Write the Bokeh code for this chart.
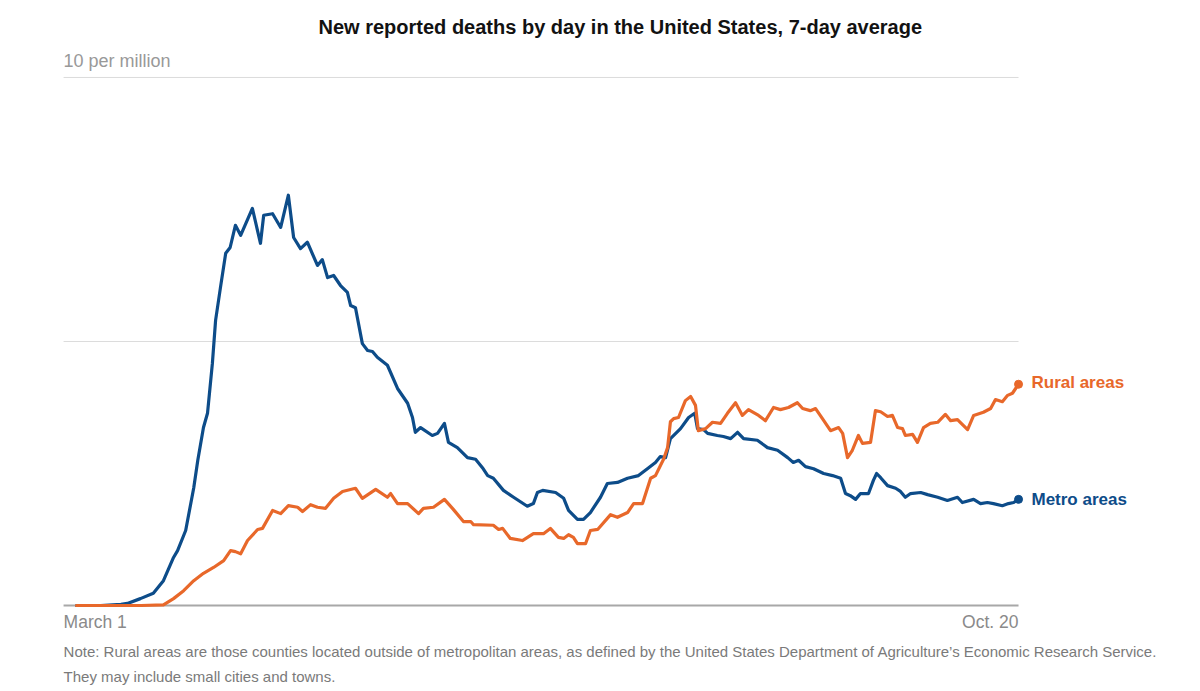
from bokeh.plotting import figure
from bokeh.models import Range1d, Label
from bokeh.embed import file_html
from bokeh.resources import INLINE

# Days since March 1 and deaths per million (7-day average)
metro_day = [0, 6, 11, 12.6, 15.8, 19, 21.5, 24, 25, 27, 29, 30, 31.4, 32.4, 33.6, 34.4, 35.6,
             36.9, 38, 39.3, 40.6, 43.5, 45.5, 46.3, 48.5, 50.5, 52.4, 53.7, 55.4, 57.1, 59.6,
             60.8, 62.1, 63.6, 65.3, 67, 67.8, 69, 70.7, 72, 73.2, 74.4, 76.9, 79.4, 81.9, 83.1,
             83.8, 85.1, 88, 89.3, 91, 92, 94.2, 96.7, 98.7, 100.4, 101.7, 103.1, 105.6, 108.1,
             111.5, 113, 114, 115.3, 118.5, 120.5, 121.7, 123.9, 125.4, 127.1, 129.6, 131.3,
             133.8, 136.3, 139, 141.2, 143.2, 144.4, 145.7, 146.9, 149.4, 151.4, 152.9, 153.6,
             155.1, 156.1, 158.5, 160, 161.8, 163.5, 165, 168.4, 170.9, 173.4, 175.9, 177.3,
             178.6, 180.3, 182.3, 184.8, 187, 189, 190.2, 191.4, 192.7, 193.9, 195.9, 197.1,
             197.9, 198.9, 200.6, 202.6, 203.8, 205, 206.3, 208.8, 210.5, 213, 215.4, 217.9,
             219.1, 221.9, 223.6, 225.3, 226.8, 229, 230.5, 231.8, 233]
metro_val = [0.0, 0.0, 0.02, 0.04, 0.13, 0.23, 0.47, 0.91, 1.04, 1.42, 2.23, 2.75, 3.37, 3.64,
             4.58, 5.40, 6.02, 6.67, 6.78, 7.20, 7.01, 7.52, 6.86, 7.39, 7.42, 7.16, 7.77, 6.97,
             6.76, 6.88, 6.44, 6.55, 6.21, 6.25, 6.06, 5.93, 5.68, 5.64, 4.96, 4.83, 4.81, 4.70,
             4.55, 4.11, 3.83, 3.56, 3.28, 3.37, 3.22, 3.26, 3.45, 3.09, 2.99, 2.80, 2.77, 2.61,
             2.46, 2.41, 2.18, 2.05, 1.88, 1.93, 2.14, 2.18, 2.14, 2.03, 1.80, 1.63, 1.63, 1.76,
             2.05, 2.31, 2.33, 2.41, 2.46, 2.59, 2.71, 2.82, 2.80, 3.16, 3.35, 3.56, 3.64, 3.35,
             3.33, 3.26, 3.22, 3.20, 3.16, 3.28, 3.16, 3.13, 2.99, 2.94, 2.80, 2.71, 2.75, 2.63,
             2.59, 2.50, 2.46, 2.41, 2.12, 2.08, 2.01, 2.12, 2.12, 2.37, 2.50, 2.42, 2.27, 2.22,
             2.16, 2.05, 2.12, 2.14, 2.10, 2.05, 1.99, 2.05, 1.95, 2.01, 1.93, 1.95, 1.93, 1.89,
             1.93, 1.95, 2.01]

rural_day = [0, 16, 21.5, 24, 26.5, 29, 31.4, 33.9, 36.4, 38.1, 39.3, 40.6, 42.3, 44.8, 46,
             48.5, 50.5, 52.4, 54.7, 55.9, 57.9, 59.6, 61.6, 63.6, 65.8, 69, 70.7, 74, 76.9,
             77.7, 79.4, 81.9, 84.6, 85.8, 88.3, 91, 93.2, 95.7, 97.5, 98.2, 103.1, 104.4,
             105.4, 107.3, 110.3, 113, 115.5, 117.2, 119.2, 120.5, 121.7, 122.9, 123.9, 125.9,
             127.1, 128.9, 132.1, 133.8, 136.3, 137.8, 140, 142, 143.2, 145.2, 146.2, 146.9,
             147.7, 148.9, 150.6, 151.9, 153.1, 153.8, 155.6, 157.3, 159.3, 161, 163, 164.7,
             166.2, 168.7, 170.4, 172.4, 174.1, 176.1, 178.3, 179.6, 181.5, 182.8, 184.5,
             186.5, 188.5, 189.5, 190.7, 191.9, 193.4, 194.4, 196.4, 197.6, 198.9, 200.6,
             201.8, 203.1, 204.3, 205, 206.8, 208, 209.5, 211.2, 213, 214.9, 216.2, 217.9,
             220.4, 221.9, 224.3, 226.1, 227.3, 229, 230.3, 231.5, 233]
rural_val = [0.0, 0.0, 0.01, 0.13, 0.28, 0.47, 0.61, 0.72, 0.85, 1.04, 1.02, 0.98, 1.23, 1.44,
             1.46, 1.80, 1.74, 1.89, 1.86, 1.78, 1.91, 1.86, 1.84, 2.03, 2.16, 2.22, 2.03, 2.20,
             2.05, 2.12, 1.93, 1.93, 1.74, 1.84, 1.86, 2.01, 1.82, 1.59, 1.59, 1.53, 1.52, 1.44,
             1.46, 1.27, 1.23, 1.36, 1.36, 1.46, 1.29, 1.27, 1.34, 1.29, 1.17, 1.17, 1.42, 1.44,
             1.72, 1.67, 1.76, 1.93, 1.93, 2.41, 2.46, 2.77, 2.99, 3.48, 3.54, 3.56, 3.88, 3.96,
             3.79, 3.31, 3.35, 3.47, 3.45, 3.64, 3.84, 3.60, 3.71, 3.60, 3.50, 3.75, 3.71, 3.75,
             3.84, 3.73, 3.69, 3.73, 3.54, 3.31, 3.37, 3.26, 2.80, 2.94, 3.22, 3.07, 3.09, 3.69,
             3.67, 3.58, 3.60, 3.37, 3.35, 3.22, 3.24, 3.09, 3.37, 3.45, 3.47, 3.62, 3.50, 3.52,
             3.33, 3.60, 3.66, 3.73, 3.90, 3.86, 3.98, 4.02, 4.19]

grid_values = [5, 10]
x_tick_labels = ["March 1", "Oct. 20"]
series_names = ["Rural areas", "Metro areas"]
y_unit_label = "10 per million"
title_text = "New reported deaths by day in the United States, 7-day average"
note_lines = ["Note: Rural areas are those counties located outside of metropolitan areas, as defined by the United States Department of Agriculture\u2019s Economic Research Service.",
              "They may include small cities and towns."]

METRO = "#0d4c89"
RURAL = "#e8682a"
FONT = "Liberation Sans"

# the plot frame fills the whole canvas so that annotation texts are not clipped
X0, X1 = -18.80, 274.05
Y0, Y1 = -1.61, 11.458
GRID_LEFT, GRID_RIGHT = -3.2, 233

p = figure(width=1184, height=690, output_backend="svg", toolbar_location=None,
           x_range=Range1d(X0, X1), y_range=Range1d(Y0, Y1),
           min_border_left=0, min_border_right=0, min_border_top=0, min_border_bottom=0)
p.outline_line_color = None
p.xaxis.visible = False
p.yaxis.visible = False
p.xgrid.visible = False
p.ygrid.visible = False
p.background_fill_color = "white"
p.border_fill_color = "white"

# horizontal gridlines and baseline, limited to the chart width
p.segment(x0=[GRID_LEFT] * len(grid_values), x1=[GRID_RIGHT] * len(grid_values),
          y0=grid_values, y1=grid_values, line_color="#dcdcdc", line_width=1)
p.segment(x0=[GRID_LEFT], x1=[GRID_RIGHT], y0=[0], y1=[0], line_color="#a8a8a8", line_width=2)

p.line(metro_day, metro_val, line_color=METRO, line_width=3.2, line_join="round", line_cap="round")
p.line(rural_day, rural_val, line_color=RURAL, line_width=3.2, line_join="round", line_cap="round")
p.scatter([rural_day[-1]], [rural_val[-1]], size=8, color=RURAL)
p.scatter([metro_day[-1]], [metro_val[-1]], size=8, color=METRO)

p.add_layout(Label(x=236.2, y=rural_val[-1], y_offset=2, text=series_names[0], text_font=FONT,
                   text_font_style="bold", text_font_size="17px", text_color=RURAL,
                   text_baseline="middle", text_align="left"))
p.add_layout(Label(x=236.2, y=metro_val[-1], text=series_names[1], text_font=FONT,
                   text_font_style="bold", text_font_size="17px", text_color=METRO,
                   text_baseline="middle", text_align="left"))

p.add_layout(Label(x=134.5, y=10.95, text=title_text, text_font=FONT, text_font_style="bold",
                   text_font_size="20px", text_color="#121212", text_align="center",
                   text_baseline="middle"))
p.add_layout(Label(x=GRID_LEFT, y=10.32, text=y_unit_label, text_font=FONT, text_font_size="18px",
                   text_color="#999999", text_align="left", text_baseline="middle"))
p.add_layout(Label(x=GRID_LEFT, y=-0.32, text=x_tick_labels[0], text_font=FONT, text_font_size="17.5px",
                   text_color="#8a8a8a", text_align="left", text_baseline="middle"))
p.add_layout(Label(x=GRID_RIGHT, y=-0.32, text=x_tick_labels[1], text_font=FONT, text_font_size="17.5px",
                   text_color="#8a8a8a", text_align="right", text_baseline="middle"))
p.add_layout(Label(x=GRID_LEFT, y=-0.87, text=note_lines[0], text_font=FONT, text_font_size="15px",
                   text_color="#7a7a7a", text_align="left", text_baseline="middle"))
p.add_layout(Label(x=GRID_LEFT, y=-1.34, text=note_lines[1], text_font=FONT, text_font_size="15px",
                   text_color="#7a7a7a", text_align="left", text_baseline="middle"))

open("out.html", "w").write(file_html(p, INLINE))
